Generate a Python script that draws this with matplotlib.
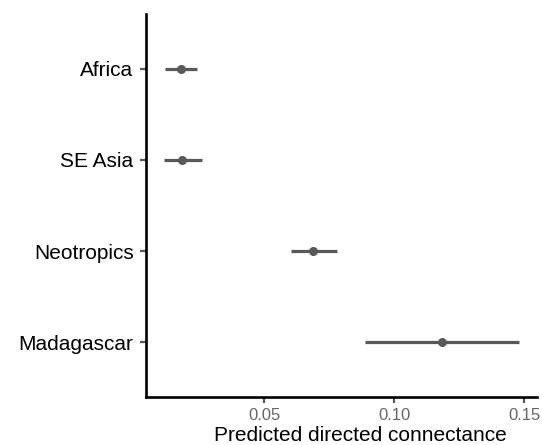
import matplotlib
matplotlib.use("Agg")
import matplotlib.pyplot as plt

plt.rcParams["font.family"] = ["Liberation Sans", "DejaVu Sans"]

regions = ["Africa", "SE Asia", "Neotropics", "Madagascar"]
estimate = [0.0181, 0.0186, 0.0688, 0.1183]
lower = [0.0119, 0.0115, 0.0604, 0.0888]
upper = [0.0242, 0.0262, 0.0781, 0.1481]

W, H = 542, 445
fig = plt.figure(figsize=(W / 100, H / 100), dpi=100)
ax = fig.add_axes([146 / W, 1 - 397 / H, (537 - 146) / W, (397 - 14) / H])

ypos = list(range(len(regions)))
grey = "#595959"
ax.hlines(ypos, lower, upper, color=grey, lw=2.3)
ax.plot(estimate, ypos, "o", color=grey, ms=5.5)

ax.set_yticks(ypos)
ax.set_yticklabels(regions)
ax.set_ylim(len(regions) - 1 + 0.6, -0.6)
ax.set_xlim(0.0046, 0.155)
ax.set_xticks([0.05, 0.10, 0.15])
ax.set_xticklabels(["0.05", "0.10", "0.15"])

for s in ["top", "right"]:
    ax.spines[s].set_visible(False)
for s in ["left", "bottom"]:
    ax.spines[s].set_linewidth(1.9)
    ax.spines[s].set_color("black")

ax.tick_params(axis="y", labelsize=15, colors=grey, labelcolor="black",
               length=4, width=1.6, pad=5)
ax.tick_params(axis="x", labelsize=12, colors=grey, labelcolor="#666666",
               length=4, width=1.6, pad=4)

ax.set_xlabel("Predicted directed connectance", fontsize=15)
ax.xaxis.set_label_coords((360 - 146) / (537 - 146), -(426 - 397) / (397 - 14))
ax.xaxis.label.set_va("top")

fig.savefig("out.png", dpi=100)
